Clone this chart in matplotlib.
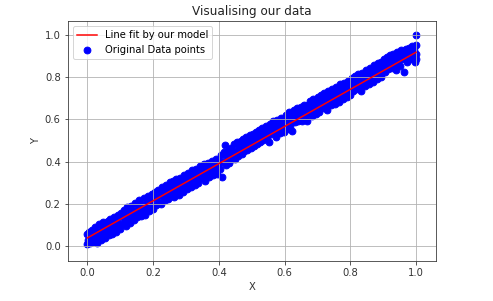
import matplotlib

matplotlib.use("Agg")
import matplotlib.pyplot as plt

# scatter points (x already scaled to [0, 1])
x_points = [
    0.000, 0.000, 0.003, 0.006, 0.008, 0.011, 0.013, 0.016, 0.019, 0.021,
    0.024, 0.027, 0.029, 0.032, 0.035, 0.037, 0.040, 0.043, 0.046, 0.048,
    0.051, 0.054, 0.057, 0.059, 0.062, 0.065, 0.068, 0.070, 0.073, 0.076,
    0.079, 0.082, 0.084, 0.087, 0.090, 0.093, 0.096, 0.098,
    0.101, 0.104, 0.107, 0.110, 0.113, 0.116, 0.119, 0.122, 0.125, 0.128,
    0.131, 0.134, 0.137, 0.140, 0.143, 0.146, 0.149, 0.152, 0.155, 0.158,
    0.161, 0.164, 0.167, 0.170, 0.173, 0.176, 0.179, 0.182, 0.185, 0.188,
    0.191, 0.194, 0.197, 0.199,
    0.202, 0.205, 0.208, 0.211, 0.214, 0.217, 0.220, 0.223, 0.226, 0.229,
    0.232, 0.235, 0.238, 0.241, 0.244, 0.247, 0.250, 0.253, 0.256, 0.259,
    0.262, 0.265, 0.268, 0.271, 0.274, 0.277, 0.280, 0.283, 0.286, 0.289,
    0.292, 0.295, 0.298,
    0.301, 0.304, 0.307, 0.310, 0.313, 0.316, 0.319, 0.322, 0.325, 0.328,
    0.331, 0.334, 0.337, 0.340, 0.343, 0.346, 0.349, 0.352, 0.355, 0.358,
    0.361, 0.364, 0.367, 0.370, 0.373, 0.376, 0.379, 0.382, 0.385, 0.388,
    0.391, 0.394, 0.397,
    0.400, 0.403, 0.406, 0.409, 0.412, 0.415, 0.418, 0.421, 0.424, 0.427,
    0.430, 0.433, 0.436, 0.439, 0.442, 0.445, 0.448, 0.451, 0.454, 0.457,
    0.460, 0.463, 0.466, 0.469, 0.472, 0.475, 0.478, 0.481, 0.484, 0.487,
    0.490, 0.493, 0.496, 0.499,
    0.502, 0.505, 0.508, 0.511, 0.514, 0.517, 0.520, 0.523, 0.526, 0.529,
    0.532, 0.535, 0.538, 0.541, 0.544, 0.547, 0.550, 0.553, 0.556, 0.559,
    0.562, 0.565, 0.568, 0.571, 0.574, 0.577, 0.580, 0.583, 0.586, 0.589,
    0.592, 0.595, 0.598,
    0.601, 0.604, 0.607, 0.610, 0.613, 0.616, 0.619, 0.622, 0.625, 0.628,
    0.631, 0.634, 0.637, 0.640, 0.643, 0.646, 0.649, 0.652, 0.655, 0.658,
    0.661, 0.664, 0.667, 0.670, 0.673, 0.676, 0.679, 0.682, 0.685, 0.688,
    0.691, 0.694, 0.697,
    0.700, 0.703, 0.706, 0.709, 0.712, 0.715, 0.718, 0.721, 0.724, 0.727,
    0.730, 0.733, 0.736, 0.739, 0.742, 0.745, 0.748, 0.751, 0.754, 0.757,
    0.760, 0.763, 0.766, 0.769, 0.772, 0.775, 0.778, 0.781, 0.784, 0.787,
    0.790, 0.793, 0.796, 0.799,
    0.802, 0.805, 0.808, 0.811, 0.814, 0.817, 0.820, 0.823, 0.826, 0.829,
    0.832, 0.835, 0.838, 0.841, 0.844, 0.847, 0.850, 0.853, 0.856, 0.859,
    0.862, 0.865, 0.868, 0.871, 0.874, 0.877, 0.880, 0.883, 0.886, 0.889,
    0.892, 0.895, 0.898,
    0.901, 0.904, 0.907, 0.910, 0.913, 0.916, 0.919, 0.922, 0.925, 0.928,
    0.931, 0.934, 0.937, 0.940, 0.943, 0.946, 0.949, 0.952, 0.955, 0.958,
    0.961, 0.964, 0.967, 0.970, 0.973, 0.976, 0.979, 0.982, 0.985, 0.988,
    0.991, 0.994, 0.997, 1.000, 1.000, 1.000, 1.000,
]
y_points = [
    0.008, 0.058, 0.030, 0.066, 0.014, 0.047, 0.075, 0.020, 0.058, 0.035,
    0.088, 0.040, 0.012, 0.066, 0.104, 0.052, 0.026, 0.092, 0.061, 0.115,
    0.075, 0.038, 0.099, 0.068, 0.120, 0.052, 0.089, 0.128, 0.076, 0.055,
    0.113, 0.136, 0.095, 0.064, 0.118, 0.148, 0.101, 0.078,
    0.156, 0.104, 0.137, 0.172, 0.118, 0.095, 0.150, 0.183, 0.131, 0.160,
    0.108, 0.190, 0.145, 0.167, 0.122, 0.202, 0.158, 0.136, 0.182, 0.216,
    0.163, 0.140, 0.193, 0.172, 0.226, 0.146, 0.201, 0.186, 0.238, 0.166,
    0.215, 0.195, 0.248, 0.176,
    0.228, 0.256, 0.194, 0.238, 0.266, 0.210, 0.247, 0.200, 0.278, 0.236,
    0.258, 0.216, 0.290, 0.250, 0.224, 0.270, 0.302, 0.236, 0.276, 0.255,
    0.308, 0.232, 0.284, 0.316, 0.262, 0.292, 0.242, 0.324, 0.276, 0.300,
    0.256, 0.335, 0.288,
    0.318, 0.270, 0.346, 0.300, 0.322, 0.278, 0.358, 0.315, 0.337, 0.290,
    0.366, 0.326, 0.300, 0.348, 0.378, 0.322, 0.355, 0.334, 0.386, 0.306,
    0.366, 0.345, 0.394, 0.326, 0.370, 0.352, 0.404, 0.335, 0.378, 0.360,
    0.412, 0.342, 0.385,
    0.402, 0.366, 0.430, 0.325, 0.398, 0.446, 0.476, 0.384, 0.418, 0.450,
    0.395, 0.432, 0.464, 0.410, 0.440, 0.484, 0.414, 0.452, 0.492, 0.426,
    0.462, 0.445, 0.498, 0.434, 0.470, 0.506, 0.450, 0.482, 0.516, 0.456,
    0.495, 0.475, 0.524, 0.464,
    0.500, 0.530, 0.472, 0.505, 0.540, 0.484, 0.515, 0.550, 0.494, 0.528,
    0.558, 0.502, 0.540, 0.520, 0.568, 0.510, 0.545, 0.494, 0.576, 0.530,
    0.556, 0.590, 0.535, 0.565, 0.514, 0.598, 0.552, 0.578, 0.534, 0.606,
    0.565, 0.596, 0.542,
    0.590, 0.620, 0.555, 0.600, 0.634, 0.570, 0.610, 0.545, 0.598, 0.646,
    0.585, 0.620, 0.654, 0.594, 0.632, 0.608, 0.660, 0.594, 0.640, 0.670,
    0.612, 0.648, 0.590, 0.666, 0.630, 0.686, 0.634, 0.665, 0.616, 0.694,
    0.652, 0.678, 0.624,
    0.670, 0.704, 0.636, 0.680, 0.714, 0.654, 0.690, 0.726, 0.666, 0.700,
    0.644, 0.734, 0.690, 0.712, 0.669, 0.746, 0.700, 0.722, 0.674, 0.754,
    0.708, 0.738, 0.684, 0.766, 0.720, 0.745, 0.694, 0.774, 0.730, 0.755,
    0.706, 0.781, 0.740, 0.716,
    0.765, 0.796, 0.732, 0.770, 0.806, 0.746, 0.782, 0.814, 0.754, 0.792,
    0.734, 0.821, 0.778, 0.800, 0.756, 0.834, 0.790, 0.812, 0.766, 0.844,
    0.800, 0.831, 0.779, 0.856, 0.812, 0.835, 0.789, 0.866, 0.822, 0.845,
    0.802, 0.874, 0.826,
    0.855, 0.884, 0.824, 0.862, 0.896, 0.839, 0.872, 0.904, 0.844, 0.882,
    0.911, 0.854, 0.888, 0.836, 0.918, 0.875, 0.900, 0.852, 0.928, 0.885,
    0.910, 0.826, 0.895, 0.934, 0.874, 0.905, 0.940, 0.884, 0.918, 0.946,
    0.892, 0.930, 0.870, 0.912, 0.950, 0.884, 1.000,
]

# fitted line end points
fit_x = [0.0, 1.0]
fit_y = [0.038, 0.918]

fig = plt.figure(figsize=(493 / 72, 301 / 72), dpi=72)
ax = fig.add_axes([0.1373, 0.1339, 0.7465, 0.7963])

# grid drawn between the scatter and the line, like the default axisbelow="line"
ax.scatter(x_points, y_points, color="blue", s=46, label="Original Data points", zorder=1)
ax.plot(fit_x, fit_y, color="red", linewidth=1.5, label="Line fit by our model", zorder=2)

ax.set_xlim(-0.06, 1.06)
ax.set_ylim(-0.07, 1.066)
ax.set_xticks([0.0, 0.2, 0.4, 0.6, 0.8, 1.0])
ax.set_yticks([0.0, 0.2, 0.4, 0.6, 0.8, 1.0])
ax.tick_params(labelsize=10, colors="#333333", labelcolor="#333333")
ax.set_axisbelow("line")
ax.grid(True, color="#b0b0b0", linewidth=0.8)
for spine in ax.spines.values():
    spine.set_color("#333333")

ax.set_title("Visualising our data", fontsize=12, color="#222222")
ax.set_xlabel("X", fontsize=10, color="#333333")
ax.set_ylabel("Y", fontsize=10, color="#333333")

handles, labels = ax.get_legend_handles_labels()
ax.legend(handles[::-1], labels[::-1], loc="upper left", fontsize=10)

fig.savefig("out.png", dpi=72)
